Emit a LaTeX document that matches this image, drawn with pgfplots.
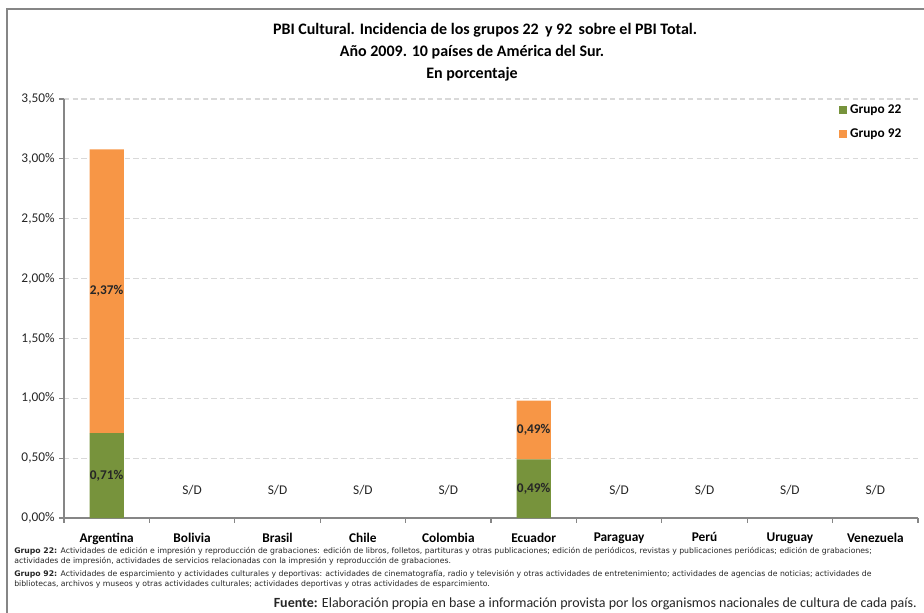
\documentclass[border=0pt]{standalone}
\usepackage{pgfplots}
\pgfplotsset{compat=1.18}
\usepackage{fontspec}
\setmainfont{Carlito}
\newfontfamily\notefont{DejaVu Sans}
\definecolor{g22}{HTML}{77933C}
\definecolor{g92}{HTML}{F79646}
\definecolor{axgray}{HTML}{868686}
\definecolor{gridgray}{HTML}{D9D9D9}
\definecolor{txt}{HTML}{262626}

\begin{document}
\begin{tikzpicture}
\path[use as bounding box] (0pt,0pt) rectangle (693pt,459pt);
\draw[axgray, line width=0.8pt] (5.25pt,-1pt) -- (5.25pt,452.25pt) -- (694pt,452.25pt);

% titulo
\node[font=\fontsize{12}{14}\selectfont\bfseries] at (363.75pt,436.5pt) {PBI Cultural. Incidencia de los grupos 22\, y 92\, sobre el PBI Total.};
\node[font=\fontsize{12}{14}\selectfont\bfseries] at (354pt,420pt) {Año 2009. 10 países de América del Sur.};
\node[font=\fontsize{12}{14}\selectfont\bfseries] at (354pt,403.5pt) {En porcentaje};

\begin{axis}[
  at={(48pt,70.5pt)}, anchor=south west, scale only axis,
  width=640.5pt, height=314.25pt,
  ybar stacked, bar width=0.4,
  xmin=-0.5, xmax=9.5, ymin=0, ymax=3.5,
  clip=false,
  axis x line*=bottom, axis y line*=left,
  axis line style={axgray, line width=0.8pt},
  ytick={0,0.5,1,1.5,2,2.5,3,3.5},
  yticklabel={\pgfmathprintnumber[fixed,fixed zerofill,precision=2,use comma]{\tick}\%},
  /pgf/number format/assume math mode=true,
  yticklabel style={font=\fontsize{10}{12}\selectfont, text=txt},
  xtick={-0.5,0.5,...,9.5}, xticklabels={},
  extra x ticks={0,...,9},
  extra x tick labels={Argentina,Bolivia,Brasil,Chile,Colombia,Ecuador,Paraguay,Perú,Uruguay,Venezuela},
  extra x tick style={major tick length=0pt, xticklabel style={font=\fontsize{10}{12}\selectfont\bfseries, text=black, anchor=north, yshift=-7.5pt}},
  tick align=outside, major tick length=3.5pt,
  tick style={axgray, line width=0.8pt},
  ymajorgrids, major grid style={gridgray, line width=0.8pt, dash pattern=on 4pt off 2.5pt},
  legend image code/.code={\fill[#1] (0pt,-3pt) rectangle (6pt,3pt);},
  legend style={at={(0.903,1.0)}, anchor=north west, draw=none, fill=none,
    font=\fontsize{10}{12}\selectfont\bfseries, row sep=6pt, cells={anchor=west}},
  nodes near coords={\pgfmathprintnumber[fixed,fixed zerofill,precision=2,use comma]{\pgfplotspointmeta}\%},
  every node near coord/.append style={font=\fontsize{10}{12}\selectfont\bfseries, text=txt},
]
\addplot[fill=g22, draw=none, legend image code/.code={\fill[g22] (0pt,-3pt) rectangle (6pt,3pt);}]
  coordinates {(0,0.71) (5,0.49)};
\addlegendentry{Grupo 22}
\addplot[fill=g92, draw=none, legend image code/.code={\fill[g92] (0pt,-3pt) rectangle (6pt,3pt);}]
  coordinates {(0,2.37) (5,0.49)};
\addlegendentry{Grupo 92}

% sin datos
\addplot[forget plot, stack plots=false, only marks, mark=none,
  nodes near coords={S/D},
  every node near coord/.style={anchor=center, yshift=21pt, font=\fontsize{10}{12}\selectfont, text=txt}]
  coordinates {(1,0) (2,0) (3,0) (4,0) (6,0) (7,0) (8,0) (9,0)};
\end{axis}

% notas
\begin{scope}[every node/.style={anchor=west, inner sep=0pt, font=\notefont\fontsize{5.8}{7}\selectfont, text=txt}]
\node at (10.5pt,45.75pt) {\textbf{Grupo 22:} Actividades de edición e impresión y reproducción de grabaciones: edición de libros, folletos, partituras y otras publicaciones; edición de periódicos, revistas y publicaciones periódicas; edición de grabaciones;};
\node at (10.5pt,38.25pt) {actividades de impresión, actividades de servicios relacionadas con la impresión y reproducción de grabaciones.};
\node at (10.5pt,28.5pt) {\textbf{Grupo 92:} Actividades de esparcimiento y actividades culturales y deportivas: actividades de cinematografía, radio y televisión y otras actividades de entretenimiento; actividades de agencias de noticias; actividades de};
\node at (10.5pt,21pt) {bibliotecas, archivos y museos y otras actividades culturales; actividades deportivas y otras actividades de esparcimiento.};
\end{scope}
\node[anchor=base east, inner sep=0pt, font=\fontsize{10.5}{12}\selectfont, text=txt] at (687.75pt,3.5pt) {\textbf{Fuente:} Elaboración propia en base a información provista por los organismos nacionales de cultura de cada país.};
\end{tikzpicture}
\end{document}
